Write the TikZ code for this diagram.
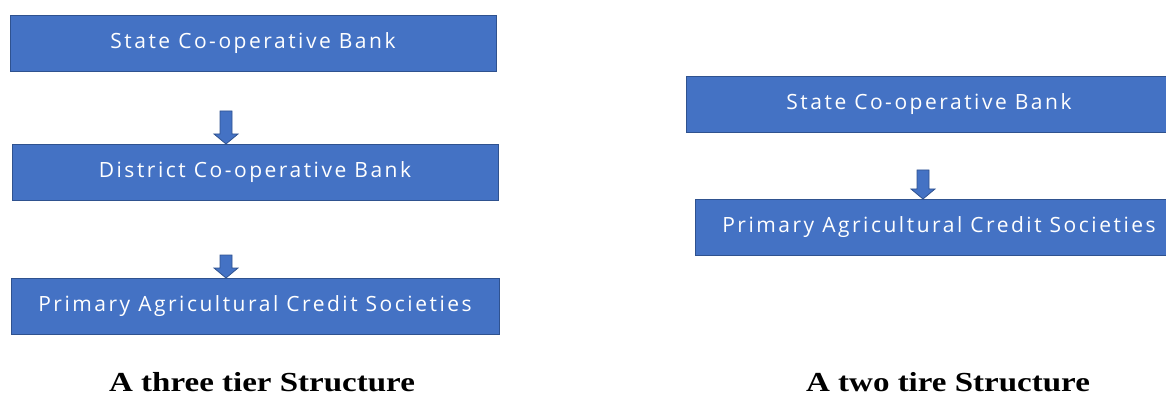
\documentclass[tikz,border=0pt]{standalone}
\usepackage{xcolor}
\usepackage{fontspec}
\setmainfont{Liberation Serif}
\newfontfamily\boxfont[LetterSpace=12]{Open Sans}
\newfontfamily\capfont[FakeStretch=1.2]{Liberation Serif}
\usepackage{tikz}
\usetikzlibrary{positioning,calc}
\definecolor{bankblue}{HTML}{4472C4}
\definecolor{bankedge}{HTML}{2F528F}
\tikzset{
    bank/.style={
        draw=bankedge,
        line width=0.8pt,
        fill=bankblue,
        text=white,
        font=\boxfont\fontsize{21}{25}\selectfont,
        minimum height=56pt,
        minimum width=486pt,
        inner sep=0pt,
        outer sep=0pt
    },
    caption/.style={
        font=\capfont\bfseries\fontsize{27.5}{32}\selectfont,
        inner sep=0pt,
        anchor=base
    },
    % fat block arrow, from a free start down onto a box
    blockarrow/.style={
        draw=bankedge,
        line width=0.8pt,
        fill=bankblue,
        to path={
            let \p1=(\tikztostart), \p2=(\tikztotarget) in
            (\x1-6pt,\y1) -- (\x1+6pt,\y1) -- (\x1+6pt,\y2+10pt)
            -- (\x1+12pt,\y2+10pt) -- (\x2,\y2) -- (\x1-12pt,\y2+10pt)
            -- (\x1-6pt,\y2+10pt) -- cycle
        }
    }
}

\begin{document}
\begin{tikzpicture}[x=1pt,y=1pt]
    \useasboundingbox (0,0) rectangle (1166,394);

    % three tier
    \node[bank] (state3) at (253,351) {State Co-operative Bank};
    \node[bank, below=73pt of state3, xshift=2pt] (dist3) {District Co-operative Bank};
    \node[bank, below=78pt of dist3, xshift=0pt, minimum width=488pt] (pacs3) {Primary Agricultural Credit Societies};
    \coordinate (a1) at ($(state3.south)+(-27,-40)$);
    \coordinate (a2) at ($(dist3.south)+(-29,-55)$);
    \draw[blockarrow] (a1) to (dist3.north -| a1);
    \draw[blockarrow] (a2) to (pacs3.north -| a2);
    \node[caption] (cap3) at (262,3) {A three tier Structure};

    % two tier
    \node[bank] (state2) at (929,290) {State Co-operative Bank};
    \node[bank, below=67pt of state2, xshift=10pt, minimum width=488pt] (pacs2) {Primary Agricultural Credit Societies};
    \coordinate (b1) at ($(state2.south)+(-6,-38)$);
    \draw[blockarrow] (b1) to (pacs2.north -| b1);
    \node[caption] (cap2) at (948,3) {A two tire Structure};
\end{tikzpicture}
\end{document}
